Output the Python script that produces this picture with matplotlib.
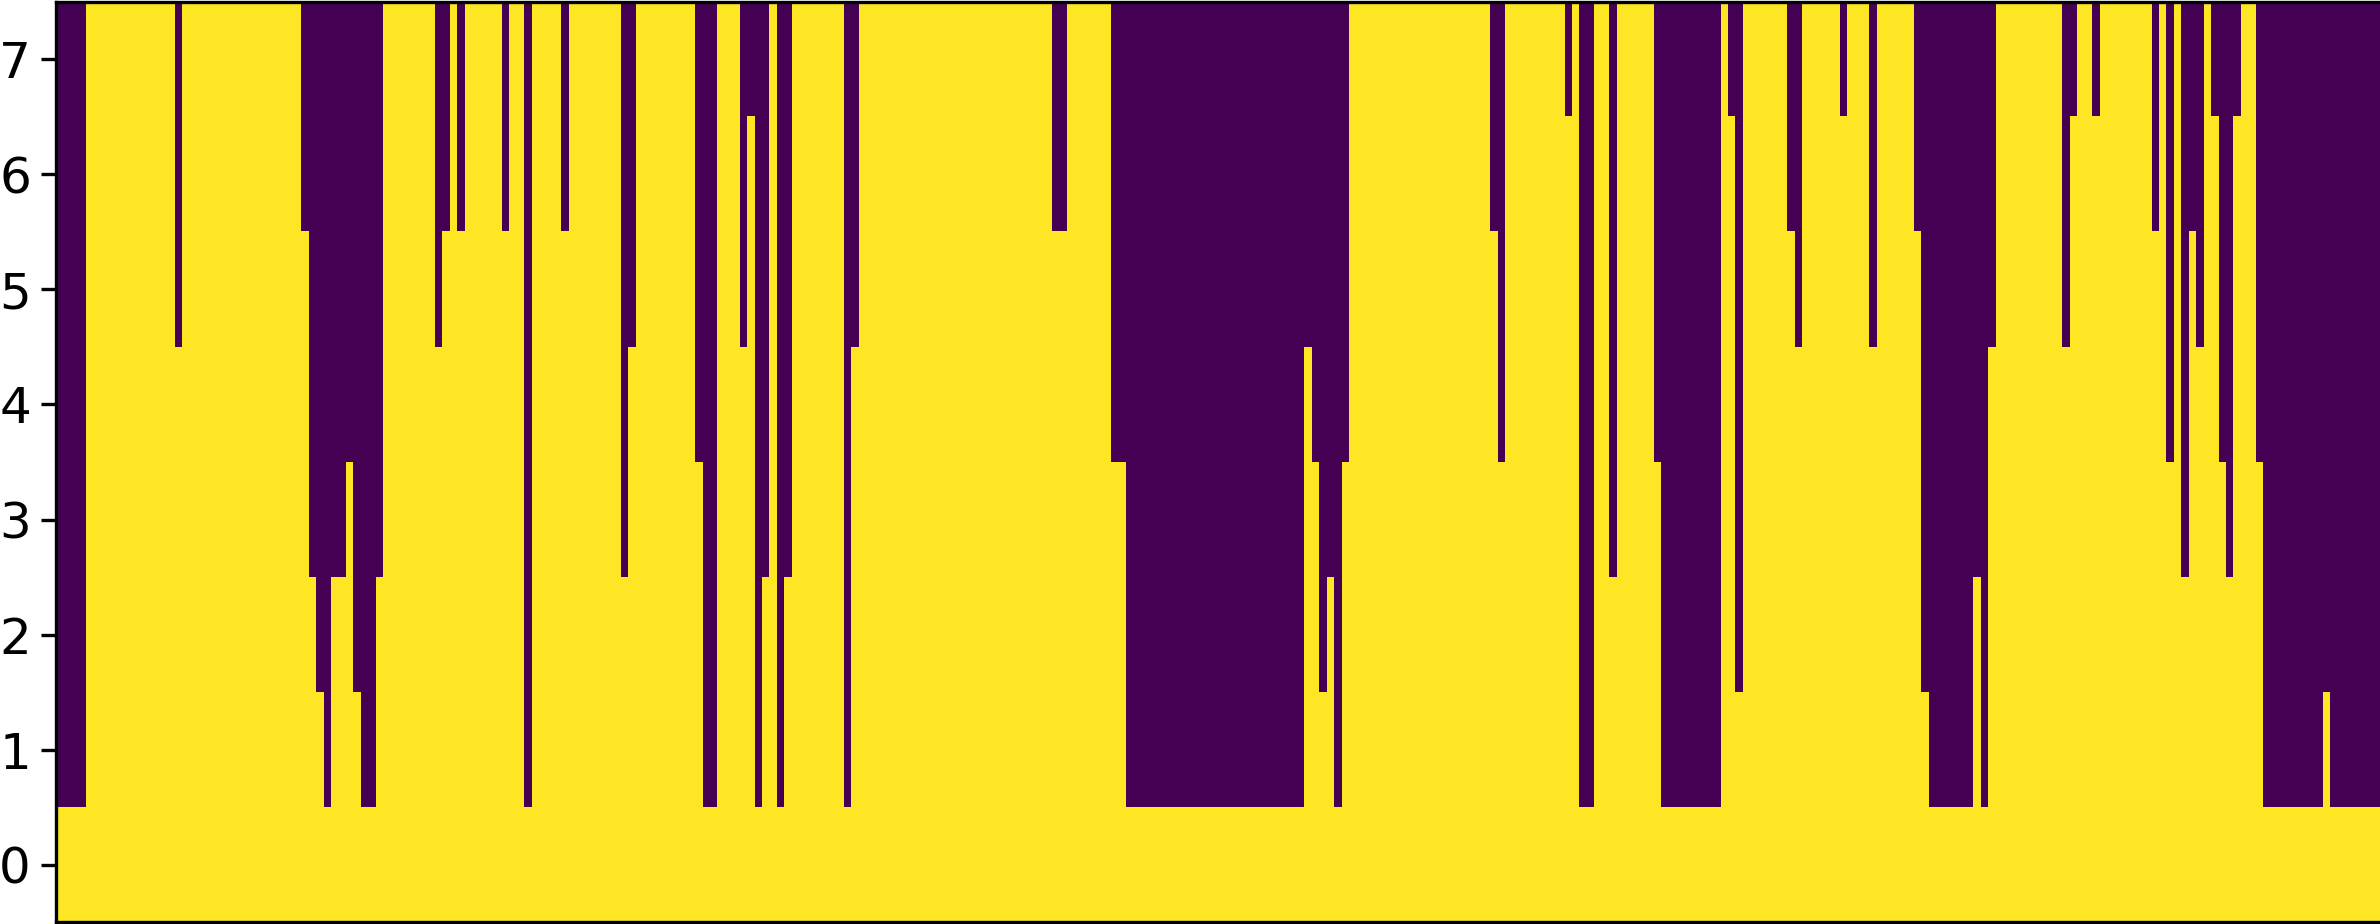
import numpy as np
import matplotlib
matplotlib.use("Agg")
import matplotlib.pyplot as plt

# Number of rows in the grid (y = 0 .. 7)
n_rows = 8

# Height of the yellow part of every column, left to right (8 = whole column yellow).
col_heights = [
    1, 1, 1, 1, 8, 8, 8, 8, 8, 8, 8, 8, 8, 8, 8, 8, 5, 8, 8, 8,
    8, 8, 8, 8, 8, 8, 8, 8, 8, 8, 8, 8, 8, 6, 3, 2, 1, 3, 3, 4,
    2, 1, 1, 3, 8, 8, 8, 8, 8, 8, 8, 5, 6, 8, 6, 8, 8, 8, 8, 8,
    6, 8, 8, 1, 8, 8, 8, 8, 6, 8, 8, 8, 8, 8, 8, 8, 3, 5, 8, 8,
    8, 8, 8, 8, 8, 8, 4, 1, 1, 8, 8, 8, 5, 7, 1, 3, 8, 1, 3, 8,
    8, 8, 8, 8, 8, 8, 1, 5, 8, 8, 8, 8, 8, 8, 8, 8, 8, 8, 8, 8,
    8, 8, 8, 8, 8, 8, 8, 8, 8, 8, 8, 8, 8, 8, 6, 6, 8, 8, 8, 8,
    8, 8, 4, 4, 1, 1, 1, 1, 1, 1, 1, 1, 1, 1, 1, 1, 1, 1, 1, 1,
    1, 1, 1, 1, 1, 1, 1, 1, 5, 4, 2, 3, 1, 4, 8, 8, 8, 8, 8, 8,
    8, 8, 8, 8, 8, 8, 8, 8, 8, 8, 8, 8, 8, 6, 4, 8, 8, 8, 8, 8,
    8, 8, 8, 7, 8, 1, 1, 8, 8, 3, 8, 8, 8, 8, 8, 4, 1, 1, 1, 1,
    1, 1, 1, 1, 8, 7, 2, 8, 8, 8, 8, 8, 8, 6, 5, 8, 8, 8, 8, 8,
    7, 8, 8, 8, 5, 8, 8, 8, 8, 8, 6, 2, 1, 1, 1, 1, 1, 1, 3, 1,
    5, 8, 8, 8, 8, 8, 8, 8, 8, 8, 5, 7, 8, 8, 7, 8, 8, 8, 8, 8,
    8, 8, 6, 8, 4, 8, 3, 6, 5, 8, 7, 4, 3, 7, 8, 8, 4, 1, 1, 1,
    1, 1, 1, 1, 1, 2, 1, 1, 1, 1, 1, 1, 1,
]

y_ticks = [0, 1, 2, 3, 4, 5, 6, 7]

# Build the 0/1 grid: 1 (yellow) below each column's height, 0 (purple) above.
heights = np.array(col_heights)
grid = (np.arange(n_rows)[:, None] < heights[None, :]).astype(int)

W, H, DPI = 2380, 924, 300
fig = plt.figure(figsize=(W / DPI, H / DPI), dpi=DPI)
ax = fig.add_axes([56 / W, 1.6 / H, (2381.5 - 56) / W, (H - 3.2) / H])

ax.imshow(grid, origin="lower", aspect="auto", cmap="viridis",
          interpolation="nearest", vmin=0, vmax=1)
ax.set_yticks(y_ticks)
ax.set_xticks([])
ax.tick_params(axis="y", labelsize=12, pad=2.5)

fig.savefig("out.png", dpi=DPI)
